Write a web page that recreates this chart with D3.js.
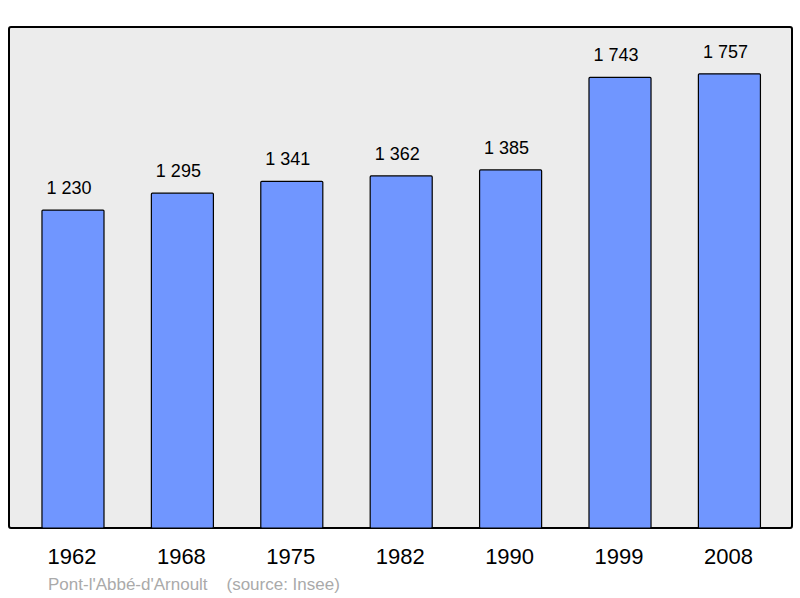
<!DOCTYPE html>
<html><head><meta charset="utf-8">
<script src="https://cdn.jsdelivr.net/npm/d3@7/dist/d3.min.js"></script>
<style>body{margin:0;background:#fff}</style></head>
<body><svg id="c" width="800" height="598"></svg>
<script>
const years = ["1962","1968","1975","1982","1990","1999","2008"];
const population = [1230,1295,1341,1362,1385,1743,1757];
const labels = ["1 230","1 295","1 341","1 362","1 385","1 743","1 757"];

const svg = d3.select("#c");
const x = d3.scaleBand().domain(years).range([-5.4, 807.8]).paddingInner(0.433).paddingOuter(0.433);
const y = d3.scaleLinear().domain([0, 1938]).range([528, 27]);
const font = "Liberation Sans, Arial, sans-serif";

svg.append("rect").attr("x",9).attr("y",27).attr("width",783).attr("height",501)
  .attr("rx",2).attr("fill","#ececec").attr("stroke","#000").attr("stroke-width",2);

svg.selectAll(".bar").data(years).enter().append("rect")
  .attr("x",d=>x(d)).attr("width",x.bandwidth())
  .attr("y",(d,i)=>y(population[i])).attr("height",(d,i)=>y(0)-y(population[i]))
  .attr("fill","#7096ff").attr("stroke","#000").attr("stroke-width",1.2).attr("rx",1);

svg.selectAll(".val").data(years).enter().append("text")
  .attr("x",d=>x(d)+x.bandwidth()/2-4).attr("y",(d,i)=>y(population[i])-16)
  .attr("text-anchor","middle").attr("font-family",font)
  .attr("font-size",18).text((d,i)=>labels[i]);

svg.selectAll(".yr").data(years).enter().append("text")
  .attr("x",d=>x(d)+x.bandwidth()/2-1).attr("y",564)
  .attr("text-anchor","middle").attr("font-family",font)
  .attr("font-size",22).text(d=>d);

svg.append("text").attr("x",48).attr("y",590).attr("fill","#aaa")
  .attr("font-family",font).attr("font-size",17)
  .attr("xml:space","preserve").text("Pont-l'Abbé-d'Arnoult    (source: Insee)");
</script></body></html>
